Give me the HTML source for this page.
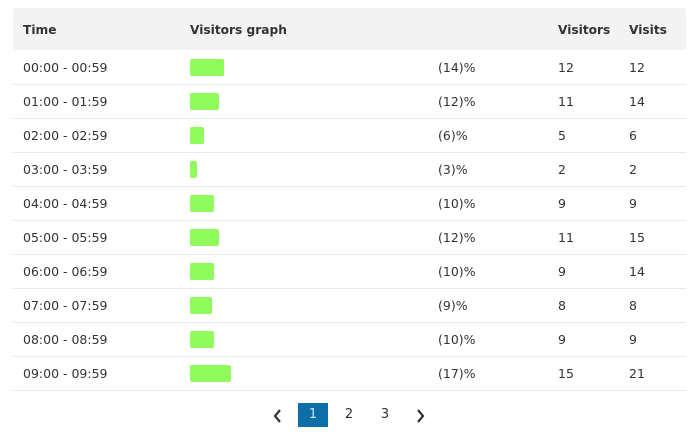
<!DOCTYPE html>
<html><head><style>
body{margin:0;width:696px;height:443px;background:#fff;font-family:"DejaVu Sans","Liberation Sans",sans-serif;color:#333;position:relative;overflow:hidden}
.hdr{position:absolute;left:13px;top:8px;width:673px;height:42px;background:#f3f3f3;border-radius:3px}
.t{position:absolute;font-size:12.5px;line-height:16px;white-space:nowrap}
.b{font-weight:bold;font-size:12.2px}
.line{position:absolute;left:13px;width:673px;height:1px;background:#e8e8e8}
.bar{position:absolute;left:190px;height:17px;background:#90fb5c;border-radius:2px}
.pg{position:absolute;top:403px;height:24px;font-size:13px;line-height:24px;text-align:center;width:30px}
</style></head><body>
<div class="hdr"></div>
<div class="t b" style="left:23px;top:22px">Time</div>
<div class="t b" style="left:190px;top:22px">Visitors graph</div>
<div class="t b" style="left:558px;top:22px">Visitors</div>
<div class="t b" style="left:629px;top:22px">Visits</div>
<div id="rows"></div>
<svg style="position:absolute;left:272px;top:408px" width="12" height="16"><path d="M8 2 L3 8 L8 14" stroke="#333" stroke-width="2.2" fill="none"/></svg>
<div class="pg" style="left:298px;background:#0e6fa8;color:#cfe8f7">1</div>
<div class="pg" style="left:334px">2</div>
<div class="pg" style="left:370px">3</div>
<svg style="position:absolute;left:415px;top:408px" width="12" height="16"><path d="M3 2 L8 8 L3 14" stroke="#333" stroke-width="2.2" fill="none"/></svg>
<script>
var d=[["00:00 - 00:59",34,14,12,12],["01:00 - 01:59",29,12,11,14],["02:00 - 02:59",14,6,5,6],["03:00 - 03:59",7,3,2,2],["04:00 - 04:59",24,10,9,9],["05:00 - 05:59",29,12,11,15],["06:00 - 06:59",24,10,9,14],["07:00 - 07:59",22,9,8,8],["08:00 - 08:59",24,10,9,9],["09:00 - 09:59",41,17,15,21]];
var h="";
d.forEach(function(r,i){var top=50+i*34;var c=top+17;
h+='<div class="t" style="left:23px;top:'+(c-7)+'px">'+r[0]+'</div>';
h+='<div class="bar" style="top:'+(c-8)+'px;width:'+r[1]+'px"></div>';
h+='<div class="t" style="left:438px;top:'+(c-7)+'px">('+r[2]+')%</div>';
h+='<div class="t" style="left:558px;top:'+(c-7)+'px">'+r[3]+'</div>';
h+='<div class="t" style="left:629px;top:'+(c-7)+'px">'+r[4]+'</div>';
h+='<div class="line" style="top:'+(top+34)+'px"></div>';});
document.getElementById("rows").innerHTML=h;
</script>
</body></html>
